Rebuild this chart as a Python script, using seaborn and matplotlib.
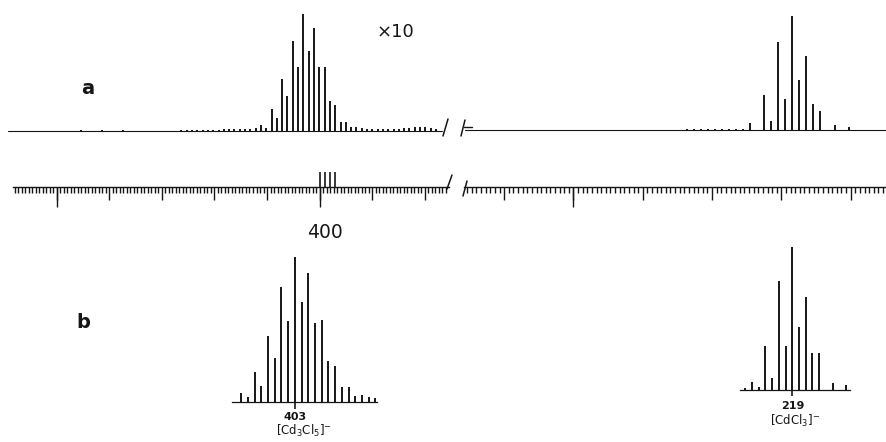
import matplotlib
matplotlib.use("Agg")
import matplotlib.pyplot as plt
from matplotlib.ticker import MultipleLocator
from matplotlib.lines import Line2D
import seaborn as sns

# ---------------- data ----------------
# Panel a, high-mass segment (x10), m/z and intensity
a_hi_mz = [445, 441, 437, 426, 425, 424, 423, 422, 421, 420, 419, 418, 417, 416, 415,
           414, 413, 412, 411, 410, 409, 408, 407, 406, 405, 404, 403, 402, 401, 400,
           399, 398, 397, 396, 395, 394, 393, 392, 391, 390, 389, 388, 387, 386, 385,
           384, 383, 382, 381, 380, 379, 378]
a_hi_int = [0.8, 0.6, 0.6, 0.5, 0.5, 0.6, 0.6, 0.8, 0.8, 1.0, 1.0, 1.2, 1.2, 1.5, 1.5,
            1.8, 2.0, 2.2, 6.0, 3.0, 21.7, 12.3, 51.7, 35.0, 90.0, 63.3, 116.7, 79.3, 102.3, 63.3,
            63.3, 29.3, 26.0, 9.0, 8.3, 3.3, 3.5, 2.5, 1.5, 1.5, 1.2, 1.2, 1.5, 1.5, 2.0,
            3.0, 2.5, 4.0, 3.5, 4.0, 3.0, 2.0]

# Panel a, low-mass segment
a_lo_mz = [234, 233, 232, 231, 230, 229, 228, 227, 226, 225, 223, 222, 221, 220,
           219, 218, 217, 216, 215, 213, 211]
a_lo_int = [0.8, 1.0, 0.8, 1.0, 1.0, 1.0, 0.8, 1.0, 1.0, 6.7, 35.0, 9.0, 87.7, 31.0,
            113.3, 50.0, 73.3, 26.0, 19.0, 4.3, 2.3]

# Panel b, [Cd3Cl5]- pattern
b1_mz = [411, 410, 409, 408, 407, 406, 405, 404, 403, 402, 401, 400, 399, 398,
         397, 396, 395, 394, 393, 392, 391]
b1_int = [9.0, 5.0, 30.0, 15.7, 66.0, 44.0, 115.0, 80.7, 144.3, 100.0, 129.0, 78.3,
          81.7, 40.7, 35.7, 15.0, 14.3, 6.0, 6.7, 4.3, 3.3]

# Panel b, [CdCl3]- pattern
b2_mz = [226, 225, 224, 223, 222, 221, 220, 219, 218, 217, 216, 215, 213, 211]
b2_int = [2.0, 8.3, 2.7, 44.0, 11.7, 109.3, 44.0, 142.7, 63.3, 93.3, 36.7, 36.7, 6.7, 4.7]

# mass scale
scale_hi_long = [450, 400]
scale_hi_up = [400, 399, 398, 397]
scale_lo_long = [250]
scale_minor_per_major = 15
scale_label = "400"
b1_label, b1_tick = r"[Cd$_3$Cl$_5$]$^{-}$", 403
b2_label, b2_tick = r"[CdCl$_3$]$^{-}$", 219

# ---------------- figure ----------------
sns.set_style("white")
plt.rcParams["font.family"] = ["DejaVu Sans"]
INK = "#161616"
W, H = 886, 442
fig = plt.figure(figsize=(W / 100, H / 100), dpi=100)
fig.patch.set_facecolor("white")


def add_ax(x0, y0, x1, y1):
    ax = fig.add_axes([x0 / W, 1 - y1 / H, (x1 - x0) / W, (y1 - y0) / H])
    ax.set_facecolor("none")
    return ax


def fig_line(xs, ys, lw=1.0):
    fig.add_artist(Line2D([x / W for x in xs], [1 - y / H for y in ys],
                          transform=fig.transFigure, color=INK, lw=lw))


def bare(ax):
    for s in ax.spines.values():
        s.set_visible(False)
    ax.set_xticks([])
    ax.set_yticks([])


# --- panel a, high-mass segment
ax1 = add_ax(8, 0, 445, 140)
ax1.set_xlim(458.7, 376.3)
ax1.set_ylim(-9.5, 130.5)
bare(ax1)
ax1.axhline(0, xmin=0, xmax=0.992, color=INK, lw=0.8)
ax1.vlines(a_hi_mz, 0, a_hi_int, color=INK, lw=1.4)

# --- panel a, low-mass segment
ax2 = add_ax(462, 0, 886, 140)
ax2.set_xlim(265.85, 205.7)
ax2.set_ylim(-10.3, 129.7)
bare(ax2)
ax2.axhline(0, xmin=0.008, xmax=1, color=INK, lw=0.8)
ax2.vlines(a_lo_mz, 0, a_lo_int, color=INK, lw=1.4)

# break marks on spectrum
fig_line([443, 448], [136, 119], lw=1.1)
fig_line([461, 465], [136, 120], lw=1.1)
fig_line([464, 472], [127, 127], lw=1.0)


# --- mass scale
def scale_axis(x0, x1, xlim, long_ticks, up_ticks):
    ax = add_ax(x0, 187, x1, 215)
    ax.set_xlim(*xlim)
    ax.set_ylim(0, 1)
    for s in ["left", "right", "bottom"]:
        ax.spines[s].set_visible(False)
    ax.spines["top"].set_visible(True)
    ax.spines["top"].set_color(INK)
    ax.spines["top"].set_linewidth(1.0)
    ax.set_yticks([])
    ax.xaxis.set_ticks_position("top")
    ax.xaxis.set_major_locator(MultipleLocator(10))
    ax.xaxis.set_minor_locator(MultipleLocator(10 / scale_minor_per_major))
    ax.tick_params(axis="x", which="major", direction="in", length=9.5, width=1.0,
                   color=INK, top=True, bottom=False, labeltop=False, labelbottom=False)
    ax.tick_params(axis="x", which="minor", direction="in", length=4.5, width=1.0,
                   color=INK, top=True, bottom=False)
    sec = ax.secondary_xaxis("top")
    sec.set_xticks(long_ticks, labels=[""] * len(long_ticks))
    sec.tick_params(direction="in", length=14.5, width=1.0, color=INK)
    sec.spines["top"].set_visible(False)
    if up_ticks:
        sec2 = ax.secondary_xaxis("top")
        sec2.set_xticks(up_ticks, labels=[""] * len(up_ticks))
        sec2.tick_params(direction="out", length=11, width=1.2, color=INK)
        sec2.spines["top"].set_visible(False)
    return ax


scale_axis(13, 449, (458.3, 375.4), scale_hi_long, scale_hi_up)
scale_axis(464, 886, (265.8, 204.9), scale_lo_long, None)
fig_line([447, 452], [189, 175], lw=1.1)
fig_line([463, 467], [196, 181], lw=1.1)

# --- panel b insets
def inset(x0, y0, x1, y1, xlim, mz, inten, tick, label, ticklen, pad):
    ax = add_ax(x0, y0, x1, y1)
    ax.set_xlim(*xlim)
    ax.set_ylim(0, y1 - y0)
    sns.despine(ax=ax, left=True)
    ax.spines["bottom"].set_color(INK)
    ax.spines["bottom"].set_linewidth(0.9)
    ax.set_yticks([])
    ax.vlines(mz, 0, inten, color=INK, lw=1.4)
    ax.set_xticks([tick], labels=[str(tick)])
    ax.tick_params(axis="x", direction="out", length=ticklen, width=1.2, color=INK,
                   pad=pad, labelsize=8, labelcolor=INK, bottom=True)
    for t in ax.get_xticklabels():
        t.set_fontweight("bold")
    ax.set_xlabel(label, fontsize=8.5, labelpad=1, color=INK)
    return ax


inset(231.7, 250, 376.7, 401.7, (412.4, 390.8), b1_mz, b1_int, b1_tick, b1_label, 4.8, 2.5)
inset(740, 240, 850, 390, (226.8, 210.4), b2_mz, b2_int, b2_tick, b2_label, 4.1, 4.0)

# --- texts
fig.text(88 / W, 1 - 88 / H, "a", ha="center", va="center", fontsize=14, fontweight="bold", color=INK)
fig.text(83 / W, 1 - 322 / H, "b", ha="center", va="center", fontsize=14, fontweight="bold", color=INK)
fig.text(395 / W, 1 - 32 / H, "×10", ha="center", va="center", fontsize=13, color=INK)
fig.text(325 / W, 1 - 233 / H, scale_label, ha="center", va="center", fontsize=13.5, color=INK)

fig.savefig("out.png", dpi=100, facecolor="white")
